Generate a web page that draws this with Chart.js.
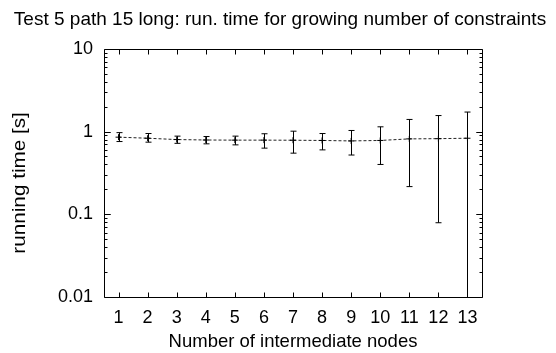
<!DOCTYPE html>
<html>
<head>
<meta charset="utf-8">
<script src="https://cdn.jsdelivr.net/npm/chart.js@4.4.0/dist/chart.umd.min.js"></script>
<style>
  html, body { margin: 0; padding: 0; background: #fff; }
  #wrap { width: 556px; height: 353px; }
</style>
</head>
<body>
<div id="wrap"><canvas id="myChart" width="556" height="353"></canvas></div>
<script>
// number of intermediate nodes (x axis)
const nodes = [1, 2, 3, 4, 5, 6, 7, 8, 9, 10, 11, 12, 13];
// mean running time [s]
const meanTime = [0.855, 0.83, 0.80, 0.79, 0.787, 0.787, 0.785, 0.78, 0.77, 0.78, 0.815, 0.82, 0.83];
// error bar ends (0 means the bar runs off the bottom of the log axis)
const upperTime = [0.97, 0.946, 0.88, 0.87, 0.88, 0.94, 1.01, 0.946, 1.03, 1.14, 1.40, 1.56, 1.72];
const lowerTime = [0.757, 0.744, 0.72, 0.71, 0.69, 0.63, 0.548, 0.60, 0.52, 0.40, 0.216, 0.079, 0];
// y tick labels
const yTicks = [0.01, 0.1, 1, 10];
const yTitle = 'running time [s]';

const FONT = "'Liberation Sans', Arial, Helvetica, sans-serif";

// error bars drawn from the scales
const errorBars = {
    id: 'errorBars',
    afterDatasetsDraw(chart) {
        const ctx = chart.ctx;
        const xs = chart.scales.x, ys = chart.scales.y;
        const area = chart.chartArea;
        ctx.save();
        ctx.strokeStyle = '#000';
        ctx.lineWidth = 1;
        nodes.forEach((n, i) => {
            const x = Math.round(xs.getPixelForValue(n)) + 0.5;
            const yTop = ys.getPixelForValue(upperTime[i]);
            const clipped = !(lowerTime[i] > ys.min);
            const yBot = clipped ? area.bottom : ys.getPixelForValue(lowerTime[i]);
            ctx.beginPath();
            ctx.moveTo(x, yTop);
            ctx.lineTo(x, yBot);
            ctx.moveTo(x - 3, yTop);
            ctx.lineTo(x + 3, yTop);
            if (!clipped) {
                ctx.moveTo(x - 3, yBot);
                ctx.lineTo(x + 3, yBot);
            }
            ctx.stroke();
        });
        ctx.restore();
    }
};

// gnuplot style frame with inward ticks, plus the rotated y title
const frame = {
    id: 'frame',
    afterDraw(chart) {
        const ctx = chart.ctx;
        const xs = chart.scales.x, ys = chart.scales.y;
        const a = chart.chartArea;
        const L = Math.round(a.left) + 0.5, R = Math.round(a.right) + 0.5;
        const T = Math.round(a.top) + 0.5, B = Math.round(a.bottom) + 0.5;
        ctx.save();
        ctx.strokeStyle = '#000';
        ctx.lineWidth = 1;
        ctx.beginPath();
        ctx.rect(L, T, R - L, B - T);
        // x ticks, top and bottom
        nodes.forEach(n => {
            const x = Math.round(xs.getPixelForValue(n)) + 0.5;
            ctx.moveTo(x, B); ctx.lineTo(x, B - 5);
            ctx.moveTo(x, T); ctx.lineTo(x, T + 5);
        });
        // y ticks, major and minor, left and right
        for (let d = 0.01; d < 10; d *= 10) {
            for (let k = 1; k <= 10; k++) {
                const v = d * k;
                const y = Math.round(ys.getPixelForValue(v)) + 0.5;
                const len = (k === 1 || k === 10) ? 6 : 3;
                ctx.moveTo(L, y); ctx.lineTo(L + len, y);
                ctx.moveTo(R, y); ctx.lineTo(R - len, y);
            }
        }
        ctx.stroke();

        // y title: gnuplot draws it stretched and a bit below the plot centre
        ctx.translate(20, (a.top + a.bottom) / 2 + 10);
        ctx.rotate(-Math.PI / 2);
        ctx.scale(1.15, 1);
        ctx.fillStyle = '#000';
        ctx.font = '18px ' + FONT;
        ctx.textAlign = 'center';
        ctx.textBaseline = 'middle';
        ctx.fillText(yTitle, 0, 0);
        ctx.restore();
    }
};

const ctx = document.getElementById('myChart').getContext('2d');
const chart = new Chart(ctx, {
    type: 'line',
    data: {
        datasets: [{
            label: 'running time',
            data: nodes.map((n, i) => ({x: n, y: meanTime[i]})),
            borderColor: '#222',
            borderWidth: 1,
            borderDash: [3, 2],
            pointStyle: 'cross',
            pointRadius: 3,
            pointBorderColor: '#000',
            pointBorderWidth: 1,
            fill: false,
            tension: 0
        }]
    },
    plugins: [errorBars, frame],
    options: {
        responsive: false,
        animation: false,
        devicePixelRatio: 1,
        layout: { padding: { left: 4, right: 0, top: 0, bottom: 0 } },
        plugins: {
            legend: { display: false },
            tooltip: { enabled: false },
            title: {
                display: true,
                text: 'Test 5 path 15 long: run. time for growing number of constraints',
                color: '#000',
                font: { family: FONT, size: 19, weight: 'normal' },
                padding: { top: 8, bottom: 18 }
            }
        },
        scales: {
            x: {
                type: 'linear',
                min: 0.5,
                max: 13.5,
                afterBuildTicks: s => { s.ticks = nodes.map(v => ({value: v})); },
                afterFit: s => { s.height = 56; },
                grid: { display: false, drawTicks: false },
                border: { display: false },
                ticks: {
                    color: '#000',
                    font: { family: FONT, size: 18 },
                    padding: 10,
                    maxRotation: 0,
                    autoSkip: false
                },
                title: {
                    display: true,
                    text: 'Number of intermediate nodes',
                    color: '#000',
                    font: { family: FONT, size: 18.5 },
                    padding: { top: 0, bottom: 0 }
                }
            },
            y: {
                type: 'logarithmic',
                min: 0.01,
                max: 10,
                afterBuildTicks: s => { s.ticks = yTicks.map(v => ({value: v, major: true})); },
                afterFit: s => { s.width = 100; },
                grid: { display: false, drawTicks: false },
                border: { display: false },
                ticks: {
                    color: '#000',
                    font: { family: FONT, size: 18 },
                    padding: 11,
                    autoSkip: false,
                    callback: v => String(v)
                }
            },
            // empty right-hand axis that only reserves the space right of the plot
            yRight: {
                type: 'linear',
                position: 'right',
                afterFit: s => { s.width = 74; },
                grid: { display: false, drawTicks: false },
                border: { display: false },
                ticks: { display: false }
            }
        }
    }
});
</script>
</body>
</html>
